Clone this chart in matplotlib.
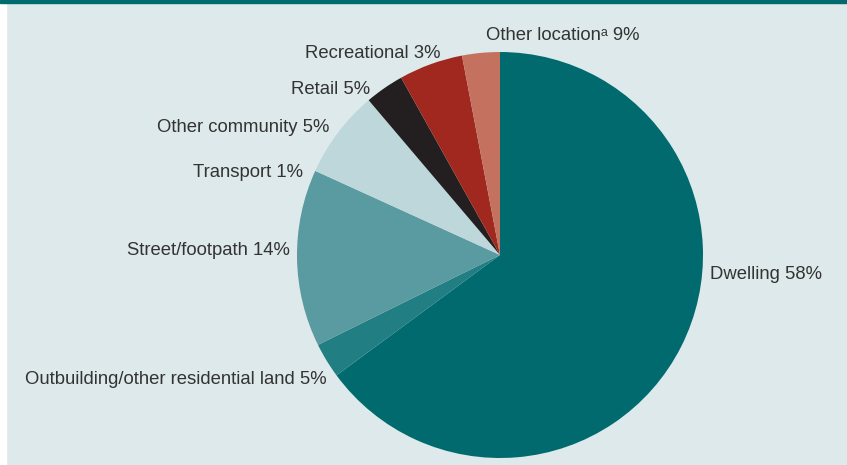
import matplotlib.pyplot as plt
from matplotlib import font_manager

# slice sizes as drawn (degrees, in %), clockwise from 12 o'clock
categorias = ["Dwelling", "Outbuilding/other residential land", "Street/footpath",
              "Transport", "Other community", "Retail", "Recreational", "Other location"]
fatias = [64.9, 2.8, 14.1, 0.0, 7.0, 3.1, 5.1, 3.0]
rotulos = ["Dwelling 58%", "Outbuilding/other residential land 5%", "Street/footpath 14%",
           "Transport 1%", "Other community 5%", "Retail 5%", "Recreational 3%",
           "Other location\u1d43 9%"]
cores = ["#006a6e", "#217e82", "#5a9aa1", "#8fbcc0", "#bdd7da", "#231f20", "#a0281e", "#c4725f"]

nomes = {f.name for f in font_manager.fontManager.ttflist}
fonte = ["Liberation Sans Narrow", "Liberation Sans", "DejaVu Sans"]
fonte = [f for f in fonte if f in nomes] or ["DejaVu Sans"]
tamanho = 14.5 if fonte[0] == "Liberation Sans Narrow" else 13.3
plt.rcParams["font.family"] = fonte

fundo = "#dde9ea"
fig = plt.figure(figsize=(8.47, 4.65), dpi=100)
fig.patch.set_facecolor(fundo)

# faixa branca à esquerda e barra verde no topo
fig.add_artist(plt.Rectangle((0, 0), 6 / 847, 1, transform=fig.transFigure, color="white", zorder=0))
fig.add_artist(plt.Rectangle((0, 1 - 3 / 465), 1, 3 / 465, transform=fig.transFigure, color="#006a6e", zorder=0))

cx, cy, r = 500, 255, 203
ax = fig.add_axes([(cx - r) / 847, (465 - cy - r) / 465, 2 * r / 847, 2 * r / 465])
ax.set_facecolor(fundo)
ax.pie(fatias, colors=cores, startangle=90, counterclock=False, radius=1,
       wedgeprops=dict(linewidth=0))
ax.set_xlim(-1, 1)
ax.set_ylim(-1, 1)
ax.set_aspect("equal")
ax.axis("off")

def px(x, y):
    return (x - cx) / r, (cy - y) / r

# posição dos rótulos em pixels (x, y da linha de base, alinhamento)
posicoes = {
    "Dwelling": (710, 279, "left"),
    "Outbuilding/other residential land": (327, 384, "right"),
    "Street/footpath": (290, 255, "right"),
    "Transport": (303, 177, "right"),
    "Other community": (329, 132, "right"),
    "Retail": (370, 94, "right"),
    "Recreational": (440, 58, "right"),
    "Other location": (486, 40, "left"),
}
for cat, txt in zip(categorias, rotulos):
    x, y, ha = posicoes[cat]
    tx, ty = px(x, y)
    ax.text(tx, ty, txt, ha=ha, va="baseline", fontsize=tamanho, color="#333333", clip_on=False)

plt.savefig("out.png", dpi=100, facecolor=fundo)
